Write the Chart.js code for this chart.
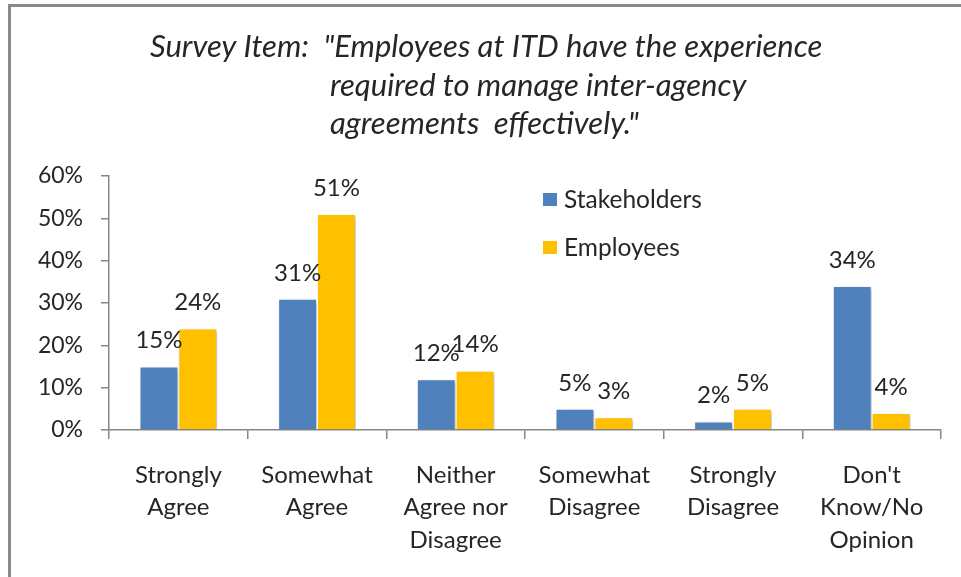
<!DOCTYPE html>
<html>
<head>
<meta charset="utf-8">
<script src="https://cdn.jsdelivr.net/npm/chart.js@4.4.1/dist/chart.umd.min.js"></script>
<style>
  html, body { margin: 0; padding: 0; background: #fff; }
  canvas { display: block; }
</style>
</head>
<body>
<canvas id="chart-survey" width="961" height="577"></canvas>
<script>
// survey answers, values
var categories = [
    ['Strongly', 'Agree'],
    ['Somewhat', 'Agree'],
    ['Neither', 'Agree nor', 'Disagree'],
    ['Somewhat', 'Disagree'],
    ['Strongly', 'Disagree'],
    ["Don't", 'Know/No', 'Opinion']
];
var seriesNames = ['Stakeholders', 'Employees'];
var stakeholders = [15, 31, 12, 5, 2, 34];
var employees = [24, 51, 14, 3, 5, 4];
var yMax = 60;
var yStep = 10;
var titleLines = [
    'Survey Item:  "Employees at ITD have the experience',
    'required to manage inter-agency',
    'agreements  effectively."'
];

var FONT = 'Lato, "Open Sans", sans-serif';
var TEXT = '#262626';
var AXIS = '#868686';

// grey frame, title text
var framePlugin = {
    id: 'frame',
    beforeDraw: function (chart) {
        var c = chart.ctx;
        c.save();
        c.fillStyle = '#fff';
        c.fillRect(0, 0, chart.width, chart.height);
        c.strokeStyle = '#8a8a8a';
        c.lineWidth = 3;
        c.beginPath();
        c.moveTo(9.5, chart.height + 5);
        c.lineTo(9.5, 5.5);
        c.lineTo(chart.width + 5, 5.5);
        c.stroke();

        c.fillStyle = TEXT;
        c.font = 'italic 31px ' + FONT;
        c.textBaseline = 'middle';
        c.textAlign = 'left';
        c.fillText(titleLines[0], 150, 47);
        c.fillText(titleLines[1], 330, 86);
        c.fillText(titleLines[2], 330, 124);
        c.restore();
    }
};

// soft shadow under the bars
var shadowPlugin = {
    id: 'barShadow',
    beforeDatasetsDraw: function (chart) {
        var c = chart.ctx;
        c.save();
        c.shadowColor = 'rgba(0,0,0,0.28)';
        c.shadowBlur = 4;
        c.shadowOffsetX = 2;
        c.shadowOffsetY = 2;
    },
    afterDatasetsDraw: function (chart) {
        chart.ctx.restore();
    }
};

// value labels above bars + legend inside the plot
var labelPlugin = {
    id: 'valueLabels',
    afterDraw: function (chart) {
        var c = chart.ctx;
        c.save();
        c.fillStyle = TEXT;
        c.font = '24px ' + FONT;
        c.textAlign = 'center';
        c.textBaseline = 'middle';
        chart.data.datasets.forEach(function (ds, i) {
            chart.getDatasetMeta(i).data.forEach(function (bar, j) {
                c.fillText(ds.data[j] + '%', bar.x, bar.y - 26);
            });
        });

        var area = chart.chartArea;
        var lx = area.left + 434;
        c.textAlign = 'left';
        c.font = '24.5px ' + FONT;
        chart.data.datasets.forEach(function (ds, i) {
            var cy = area.top + 24 + i * 48;
            c.fillStyle = ds.backgroundColor;
            c.fillRect(lx, cy - 7, 14, 13);
            c.fillStyle = TEXT;
            c.fillText(ds.label, lx + 21, cy);
        });
        c.restore();
    }
};

var ctx = document.getElementById('chart-survey').getContext('2d');
var surveyChart = new Chart(ctx, {
    type: 'bar',
    data: {
        labels: categories,
        datasets: [{
            label: seriesNames[0],
            data: stakeholders,
            backgroundColor: '#4F81BD',
            borderColor: '#ffffff',
            borderWidth: 1,
            categoryPercentage: 0.56,
            barPercentage: 1
        }, {
            label: seriesNames[1],
            data: employees,
            backgroundColor: '#FFC000',
            borderColor: '#ffffff',
            borderWidth: 1,
            categoryPercentage: 0.56,
            barPercentage: 1
        }]
    },
    options: {
        responsive: false,
        maintainAspectRatio: false,
        animation: false,
        layout: {
            padding: { top: 176, right: 20, left: 0, bottom: 0 }
        },
        plugins: {
            legend: { display: false },
            title: { display: false },
            tooltip: { enabled: false }
        },
        scales: {
            x: {
                grid: {
                    display: true,
                    drawOnChartArea: false,
                    offset: true,
                    tickLength: 9,
                    color: AXIS,
                    lineWidth: 1.5
                },
                border: { color: AXIS, width: 1.5 },
                ticks: {
                    color: TEXT,
                    padding: 20,
                    maxRotation: 0,
                    font: { family: FONT, size: 24, lineHeight: 1.35 }
                },
                afterFit: function (scale) { scale.height = 147; }
            },
            y: {
                min: 0,
                max: yMax,
                grid: {
                    display: true,
                    drawOnChartArea: false,
                    tickLength: 8,
                    color: AXIS,
                    lineWidth: 1.5
                },
                border: { color: AXIS, width: 1.5 },
                ticks: {
                    stepSize: yStep,
                    color: TEXT,
                    padding: 18,
                    font: { family: FONT, size: 23 },
                    callback: function (v) { return v + '%'; }
                },
                afterFit: function (scale) { scale.width = 109; }
            }
        }
    },
    plugins: [framePlugin, shadowPlugin, labelPlugin]
});
</script>
</body>
</html>
